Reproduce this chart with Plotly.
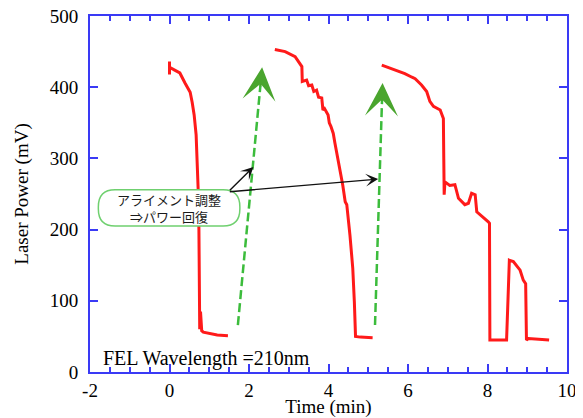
import plotly.graph_objects as go

# ---- data ----
seg1_t = [0.0, 0.0, 0.0, 0.13, 0.26, 0.39, 0.52, 0.57, 0.62, 0.67, 0.69, 0.72, 0.74, 0.75, 0.76, 0.78, 0.79, 0.81, 0.85, 1.0, 1.2, 1.47]
seg1_p = [436, 418, 428, 424, 420, 406, 393, 379, 361, 333, 305, 258, 200, 120, 60, 85, 70, 58, 56, 54, 52, 51]

seg2_t = [2.65, 2.91, 3.16, 3.33, 3.34, 3.45, 3.50, 3.58, 3.63, 3.70, 3.75, 3.83, 3.86, 3.90, 3.99, 4.02, 4.06, 4.12, 4.16, 4.20, 4.29, 4.36, 4.42, 4.46, 4.54, 4.61, 4.65, 4.68, 4.80, 5.11]
seg2_p = [453, 450, 443, 429, 408, 410, 402, 403, 394, 396, 386, 385, 368, 370, 361, 350, 345, 335, 322, 311, 284, 262, 239, 235, 192, 146, 99, 50, 49, 48]

seg3_t = [5.34, 5.67, 5.92, 6.10, 6.18, 6.34, 6.47, 6.55, 6.64, 6.81, 6.89, 6.90, 6.91, 6.93, 6.97, 7.05, 7.18, 7.27, 7.43, 7.52, 7.60, 7.69, 7.73, 7.89, 8.02, 8.05, 8.06, 8.48, 8.55, 8.65, 8.82, 8.90, 8.96, 8.98, 9.03, 9.55]
seg3_p = [431, 424, 419, 414, 412, 403, 394, 380, 373, 368, 356, 300, 249, 267, 265, 262, 263, 244, 235, 237, 251, 249, 225, 218, 211, 209, 45, 45, 157, 155, 143, 129, 124, 45, 47, 45]

# green dashed "recovery" arrows: start (t, p) -> tip (t, p)
recov_t0 = [1.72, 5.17]
recov_p0 = [66, 66]
recov_t1 = [2.33, 5.36]
recov_p1 = [428, 406]

# black callout arrows: from callout corner to targets
call_t0 = 1.48
call_p0 = 253
call_t1 = [2.11, 5.25]
call_p1 = [288, 271]

callout_text = "アライメント調整<br>⇒パワー回復"
callout_box = dict(x0=-1.79, x1=1.77, y0=205, y1=256)
label_text = "FEL Wavelength =210nm"

x_tickvals = [-2, 0, 2, 4, 6, 8, 10]
x_ticktext = ["-2", "0", "2", "4", "6", "8", "10"]
y_tickvals = [0, 100, 200, 300, 400, 500]
y_ticktext = ["0", "100", "200", "300", "400", "500"]

x_range = [-2, 10]
y_range = [0, 500]

BLUE = "#3a3af5"
RED = "#ff1a1a"
GREEN = "#3cbc3c"
GREEN_HEAD = "#4aa52e"
SERIF = "Liberation Serif, Times New Roman, serif"

fig = go.Figure()
for t, p in [(seg1_t, seg1_p), (seg2_t, seg2_p), (seg3_t, seg3_p)]:
    fig.add_trace(go.Scatter(x=t, y=p, mode="lines",
                             line=dict(color=RED, width=3),
                             showlegend=False, hoverinfo="skip"))

# dashed green arrows
for a0, b0, a1, b1 in zip(recov_t0, recov_p0, recov_t1, recov_p1):
    frac = 0.93
    fig.add_shape(type="line", x0=a0, y0=b0,
                  x1=a0 + (a1 - a0) * frac, y1=b0 + (b1 - b0) * frac,
                  line=dict(color=GREEN, width=2.5, dash="9px,4px"))
    hf = 0.92
    fig.add_annotation(x=a1, y=b1, ax=a0 + (a1 - a0) * hf, ay=b0 + (b1 - b0) * hf,
                       axref="x", ayref="y", xref="x", yref="y", text="",
                       showarrow=True, arrowhead=3, arrowsize=2.5, arrowwidth=2.2,
                       arrowcolor=GREEN_HEAD, standoff=0)

# rounded callout box
x0, x1, y0, y1 = callout_box["x0"], callout_box["x1"], callout_box["y0"], callout_box["y1"]
rx, ry = 0.42, 24
path = (f"M {x0+rx},{y1} L {x1-rx},{y1} Q {x1},{y1} {x1},{y1-ry} L {x1},{y0+ry} "
        f"Q {x1},{y0} {x1-rx},{y0} L {x0+rx},{y0} Q {x0},{y0} {x0},{y0+ry} "
        f"L {x0},{y1-ry} Q {x0},{y1} {x0+rx},{y1} Z")
fig.add_shape(type="path", path=path, xref="x", yref="y",
              line=dict(color="#6fd06f", width=1.5), fillcolor="white")
fig.add_annotation(x=(x0 + x1) / 2, y=(y0 + y1) / 2, text=callout_text, showarrow=False,
                   font=dict(family="Noto Sans CJK JP", size=13, color="#1a1a1a"),
                   align="center")

# black arrows
for a1, b1 in zip(call_t1, call_p1):
    fig.add_annotation(x=a1, y=b1, ax=call_t0, ay=call_p0, axref="x", ayref="y",
                       xref="x", yref="y", text="", showarrow=True,
                       arrowhead=3, arrowsize=1.5, arrowwidth=1.4,
                       arrowcolor="#111111", standoff=0)

fig.add_annotation(x=0.024, y=0.0, xref="paper", yref="paper", xanchor="left",
                   yanchor="bottom", text=label_text, showarrow=False,
                   font=dict(family=SERIF, size=20, color="black"))

axis_common = dict(showline=True, linecolor=BLUE, linewidth=2, mirror="ticks",
                   ticks="inside", tickcolor=BLUE, tickwidth=2, ticklen=8,
                   showgrid=False, zeroline=False, automargin=False,
                   ticklabeloverflow="allow",
                   tickfont=dict(family=SERIF, size=19, color="black"))

fig.update_xaxes(range=x_range, tickmode="array", tickvals=x_tickvals, ticktext=x_ticktext,
                 minor=dict(dtick=0.5, tick0=0, ticks="inside", ticklen=5, tickcolor=BLUE, tickwidth=1.5),
                 title=dict(text="Time (min)", font=dict(family=SERIF, size=19, color="black"), standoff=4),
                 **axis_common)
fig.update_yaxes(range=y_range, tickmode="array", tickvals=y_tickvals, ticktext=y_ticktext,
                 ticklabelstandoff=6,
                 title=dict(text="Laser Power (mV)", font=dict(family=SERIF, size=19, color="black"), standoff=16),
                 **axis_common)

# the page body adds an 8px offset; compensate so the plot area lands at x 90-567, y 16-372
fig.update_layout(width=575, height=410, margin=dict(l=82, r=16, t=8, b=46),
                  plot_bgcolor="white", paper_bgcolor="white")

fig.write_html("out.html")
